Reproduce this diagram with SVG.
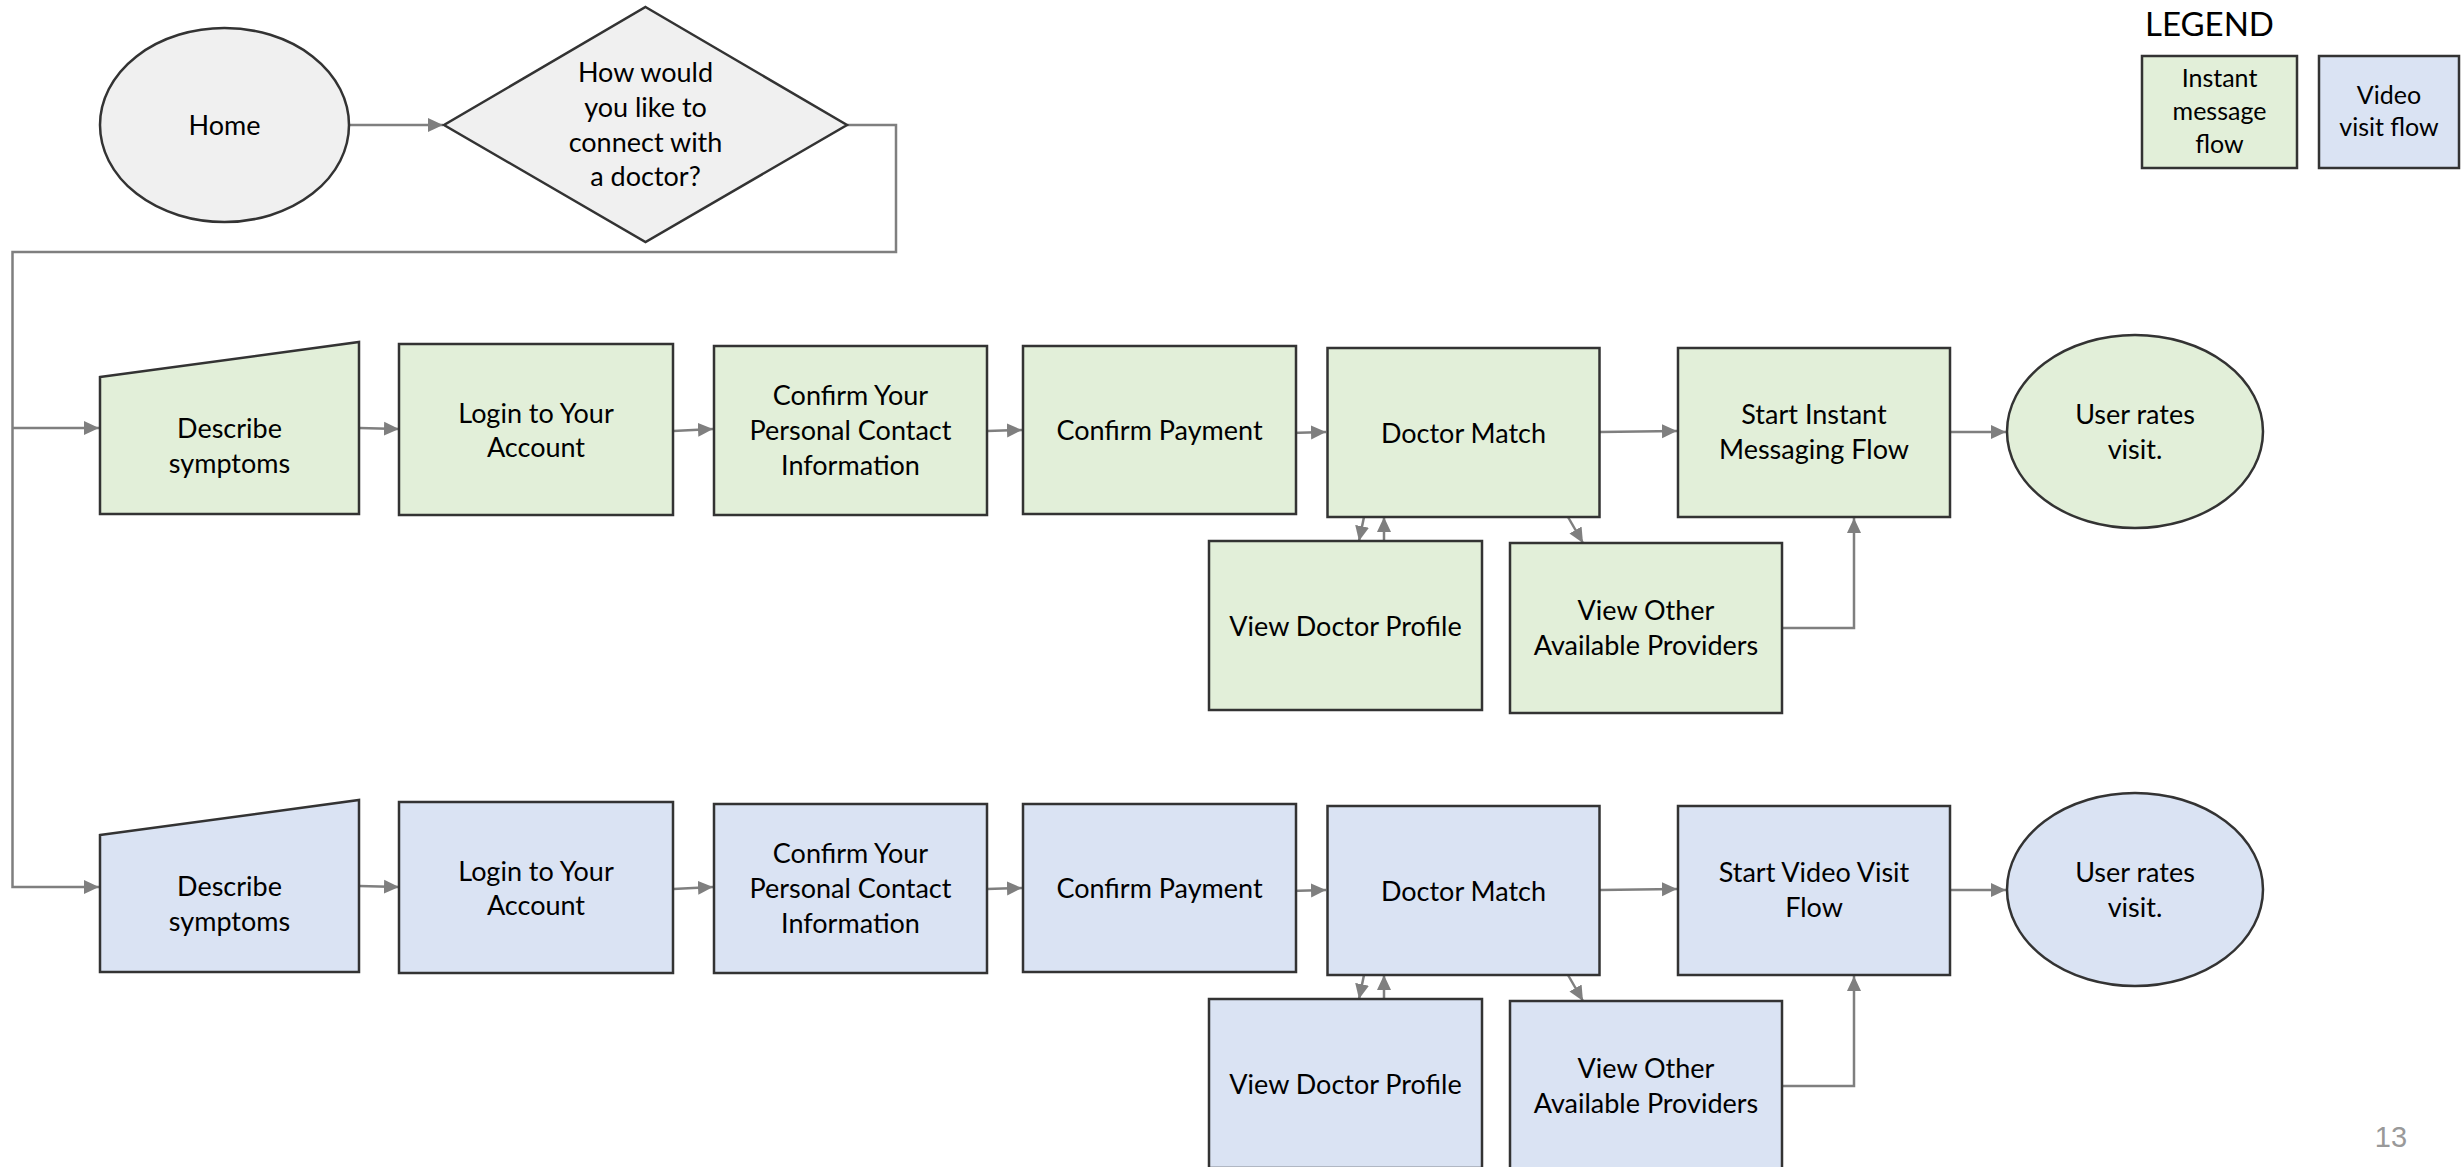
<svg xmlns="http://www.w3.org/2000/svg" width="2461" height="1167" viewBox="0 0 2461 1167">
<defs>
<style>
.t{font-family:Lato,"Open Sans","Liberation Sans",sans-serif;font-size:27px;fill:#000;text-anchor:middle}
.lt{font-family:Lato,"Open Sans","Liberation Sans",sans-serif;font-size:25px;fill:#000;text-anchor:middle}
.n{stroke:#333;stroke-width:2.5}
.g{fill:#e2efd9}
.b{fill:#dae3f3}
.gr{fill:#f0f0f0}
.c{fill:none;stroke:#7f7f7f;stroke-width:2.5}
</style>
<marker id="ah" markerUnits="userSpaceOnUse" markerWidth="16" markerHeight="16" viewBox="0 0 16 16" refX="15" refY="8" orient="auto">
<path d="M0,1 L15,8 L0,15 Z" fill="#7f7f7f"/>
</marker>
</defs>
<rect width="2461" height="1167" fill="#fff"/>

<g id="connectors">
<line class="c" x1="349" y1="125" x2="443" y2="125" marker-end="url(#ah)"/>
<polyline class="c" points="847,125 896,125 896,252 12.5,252 12.5,887 99,887" marker-end="url(#ah)"/>
<line class="c" x1="12.5" y1="428" x2="99" y2="428" marker-end="url(#ah)"/>
<!-- row 1 -->
<line class="c" x1="359" y1="428" x2="399" y2="429" marker-end="url(#ah)"/>
<line class="c" x1="673" y1="431" x2="713" y2="429" marker-end="url(#ah)"/>
<line class="c" x1="987" y1="431" x2="1022" y2="430" marker-end="url(#ah)"/>
<line class="c" x1="1290" y1="433" x2="1326" y2="432" marker-end="url(#ah)"/>
<line class="c" x1="1600" y1="432" x2="1677" y2="431" marker-end="url(#ah)"/>
<line class="c" x1="1950" y1="432" x2="2006" y2="432" marker-end="url(#ah)"/>
<line class="c" x1="1364" y1="517" x2="1359" y2="541" marker-end="url(#ah)"/>
<line class="c" x1="1384" y1="541" x2="1384" y2="517" marker-end="url(#ah)"/>
<line class="c" x1="1568" y1="517" x2="1583" y2="543" marker-end="url(#ah)"/>
<polyline class="c" points="1782,628 1854,628 1854,518" marker-end="url(#ah)"/>
<!-- row 2 -->
<line class="c" x1="359" y1="886" x2="399" y2="887" marker-end="url(#ah)"/>
<line class="c" x1="673" y1="889" x2="713" y2="887" marker-end="url(#ah)"/>
<line class="c" x1="987" y1="889" x2="1022" y2="888" marker-end="url(#ah)"/>
<line class="c" x1="1290" y1="891" x2="1326" y2="890" marker-end="url(#ah)"/>
<line class="c" x1="1600" y1="890" x2="1677" y2="889" marker-end="url(#ah)"/>
<line class="c" x1="1950" y1="890" x2="2006" y2="890" marker-end="url(#ah)"/>
<line class="c" x1="1364" y1="975" x2="1359" y2="999" marker-end="url(#ah)"/>
<line class="c" x1="1384" y1="999" x2="1384" y2="975" marker-end="url(#ah)"/>
<line class="c" x1="1568" y1="975" x2="1583" y2="1001" marker-end="url(#ah)"/>
<polyline class="c" points="1782,1086 1854,1086 1854,976" marker-end="url(#ah)"/>
</g>

<g id="home">
<ellipse class="n gr" cx="224.5" cy="125" rx="124.5" ry="97"/>
<text class="t" x="224.5" y="134.5">Home</text>
</g>
<g id="decision">
<polygon class="n gr" points="645.5,7 847,125 645.5,242 444,125"/>
<text class="t" x="645.5" y="82">How would</text>
<text class="t" x="645.5" y="117">you like to</text>
<text class="t" x="645.5" y="152">connect with</text>
<text class="t" x="645.5" y="186">a doctor?</text>
</g>

<g id="legend">
<text x="2145" y="36" style="font-family:Lato,'Open Sans','Liberation Sans',sans-serif;font-size:33px;fill:#000">LEGEND</text>
<g id="legend-im">
<rect class="n g" x="2142" y="56" width="155" height="112"/>
<text class="lt" x="2219.5" y="87">Instant</text>
<text class="lt" x="2219.5" y="120">message</text>
<text class="lt" x="2219.5" y="153">flow</text>
</g>
<g id="legend-video">
<rect class="n b" x="2319" y="56" width="140" height="112"/>
<text class="lt" x="2389" y="104">Video</text>
<text class="lt" x="2389" y="136">visit flow</text>
</g>
</g>

<!-- Row 1: instant message -->
<g id="im-describe">
<polygon class="n g" points="100,377 359,342 359,514 100,514"/>
<text class="t" x="229.5" y="438">Describe</text>
<text class="t" x="229.5" y="472.5">symptoms</text>
</g>
<g id="im-login">
<rect class="n g" x="399" y="344" width="274" height="171"/>
<text class="t" x="536" y="422.5">Login to Your</text>
<text class="t" x="536" y="457">Account</text>
</g>
<g id="im-contact">
<rect class="n g" x="714" y="346" width="273" height="169"/>
<text class="t" x="850.5" y="405">Confirm Your</text>
<text class="t" x="850.5" y="440">Personal Contact</text>
<text class="t" x="850.5" y="475">Information</text>
</g>
<g id="im-payment">
<rect class="n g" x="1023" y="346" width="273" height="168"/>
<text class="t" x="1159.5" y="439.5">Confirm Payment</text>
</g>
<g id="im-match">
<rect class="n g" x="1327.5" y="348" width="272" height="169"/>
<text class="t" x="1463.5" y="442.5">Doctor Match</text>
</g>
<g id="im-start">
<rect class="n g" x="1678" y="348" width="272" height="169"/>
<text class="t" x="1814" y="424">Start Instant</text>
<text class="t" x="1814" y="459">Messaging Flow</text>
</g>
<g id="im-rate">
<ellipse class="n g" cx="2135" cy="431.5" rx="128" ry="96.5"/>
<text class="t" x="2135" y="424">User rates</text>
<text class="t" x="2135" y="459">visit.</text>
</g>
<g id="im-profile">
<rect class="n g" x="1209" y="541" width="273" height="169"/>
<text class="t" x="1345.5" y="635.5">View Doctor Profile</text>
</g>
<g id="im-other">
<rect class="n g" x="1510" y="543" width="272" height="170"/>
<text class="t" x="1646" y="620">View Other</text>
<text class="t" x="1646" y="655">Available Providers</text>
</g>

<!-- Row 2: video visit -->
<g id="vv-describe">
<polygon class="n b" points="100,835 359,800 359,972 100,972"/>
<text class="t" x="229.5" y="896">Describe</text>
<text class="t" x="229.5" y="930.5">symptoms</text>
</g>
<g id="vv-login">
<rect class="n b" x="399" y="802" width="274" height="171"/>
<text class="t" x="536" y="880.5">Login to Your</text>
<text class="t" x="536" y="915">Account</text>
</g>
<g id="vv-contact">
<rect class="n b" x="714" y="804" width="273" height="169"/>
<text class="t" x="850.5" y="863">Confirm Your</text>
<text class="t" x="850.5" y="898">Personal Contact</text>
<text class="t" x="850.5" y="933">Information</text>
</g>
<g id="vv-payment">
<rect class="n b" x="1023" y="804" width="273" height="168"/>
<text class="t" x="1159.5" y="897.5">Confirm Payment</text>
</g>
<g id="vv-match">
<rect class="n b" x="1327.5" y="806" width="272" height="169"/>
<text class="t" x="1463.5" y="900.5">Doctor Match</text>
</g>
<g id="vv-start">
<rect class="n b" x="1678" y="806" width="272" height="169"/>
<text class="t" x="1814" y="882">Start Video Visit</text>
<text class="t" x="1814" y="917">Flow</text>
</g>
<g id="vv-rate">
<ellipse class="n b" cx="2135" cy="889.5" rx="128" ry="96.5"/>
<text class="t" x="2135" y="882">User rates</text>
<text class="t" x="2135" y="917">visit.</text>
</g>
<g id="vv-profile">
<rect class="n b" x="1209" y="999" width="273" height="169"/>
<text class="t" x="1345.5" y="1093.5">View Doctor Profile</text>
</g>
<g id="vv-other">
<rect class="n b" x="1510" y="1001" width="272" height="170"/>
<text class="t" x="1646" y="1078">View Other</text>
<text class="t" x="1646" y="1113">Available Providers</text>
</g>

<text x="2391" y="1147" style="font-family:'Liberation Sans',Arial,sans-serif;font-size:29px;fill:#999;text-anchor:middle">13</text>
</svg>
